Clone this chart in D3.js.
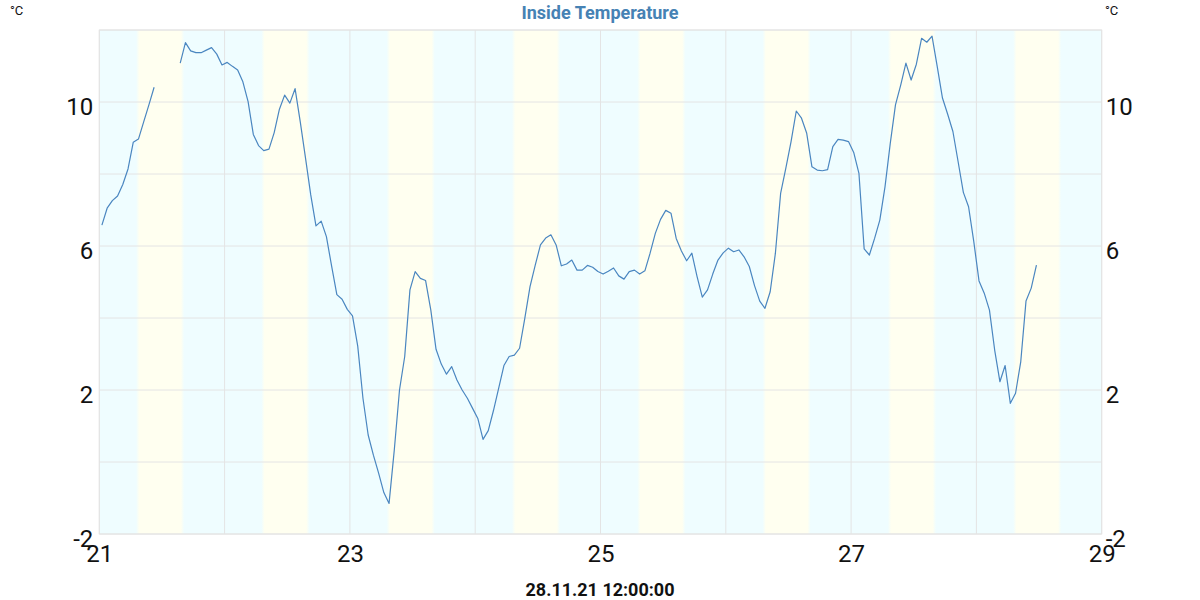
<!DOCTYPE html>
<html><head><meta charset="utf-8">
<script src="https://cdn.jsdelivr.net/npm/d3@7/dist/d3.min.js"></script>
<style>body{margin:0;background:#fff;} svg{display:block;font-family:Roboto,"Noto Sans",sans-serif;}</style>
</head><body>
<svg id="c" width="1200" height="600"></svg>
<script>
const title = "Inside Temperature";
const unit = "°C";
const footer = "28.11.21 12:00:00";
const startTime = new Date(2021, 10, 21, 0, 30);   // first hourly sample
const xDomain = [new Date(2021, 10, 21), new Date(2021, 10, 29)];
const yDomain = [-2, 12];
const xTickDays = [21, 23, 25, 27, 29];
const yTickValues = [-2, 2, 6, 10];
const yGridValues = [-2, 0, 2, 4, 6, 8, 10, 12];
const days = [21, 22, 23, 24, 25, 26, 27, 28];
const sunriseHour = 7.35;
const sunsetHour = 15.95;
// hourly inside temperature (°C), null = missing
const temps = [
 6.58,7.05,7.26,7.39,7.71,8.14,8.88,8.97,9.45,9.92,10.41,null,null,null,null,
 11.08,11.65,11.42,11.37,11.37,11.44,11.51,11.33,11.03,11.10,10.99,10.89,10.56,10.01,9.10,
 8.79,8.65,8.69,9.15,9.80,10.19,9.97,10.37,9.44,8.44,7.42,6.56,6.69,6.26,5.44,
 4.65,4.52,4.24,4.06,3.22,1.77,0.75,0.19,-0.31,-0.85,-1.15,0.33,2.00,2.93,4.78,
 5.29,5.10,5.04,4.22,3.13,2.72,2.44,2.65,2.28,2.00,1.77,1.49,1.21,0.63,0.87,
 1.43,2.05,2.68,2.93,2.97,3.16,3.99,4.87,5.47,6.03,6.22,6.31,6.03,5.45,5.50,
 5.61,5.33,5.33,5.46,5.41,5.29,5.22,5.30,5.39,5.17,5.08,5.29,5.33,5.22,5.31,
 5.80,6.35,6.74,6.99,6.91,6.21,5.86,5.59,5.80,5.15,4.58,4.78,5.22,5.61,5.81,
 5.94,5.84,5.89,5.70,5.43,4.90,4.47,4.27,4.73,5.80,7.46,8.16,8.90,9.75,9.55,
 9.13,8.20,8.11,8.09,8.12,8.76,8.96,8.94,8.90,8.60,8.02,5.92,5.75,6.21,6.72,
 7.65,8.85,9.92,10.47,11.08,10.61,11.05,11.77,11.66,11.83,10.98,10.11,9.66,9.18,8.34,
 7.49,7.09,6.12,5.03,4.69,4.22,3.11,2.23,2.68,1.63,1.91,2.79,4.47,4.83,5.47
];

const svg = d3.select("#c");
const m = {l: 99.3, r: 1101.7, t: 30, b: 534};
const x = d3.scaleTime().domain(xDomain).range([m.l, m.r]);
const y = d3.scaleLinear().domain(yDomain).range([m.b, m.t]);
const data = temps.map((v, i) => ({t: new Date(+startTime + i * 3600e3), v}));

// day/night background gradient
const cyan = "#effdff", yellow = "#fffff0";
const defs = svg.append("defs");
const grad = defs.append("linearGradient").attr("id", "bg")
  .attr("gradientUnits", "userSpaceOnUse")
  .attr("x1", m.l).attr("x2", m.r).attr("y1", 0).attr("y2", 0);
const W = m.r - m.l;
const off = d => Math.max(0, Math.min(1, (x(d) - m.l) / W));
const hr = (day, h) => new Date(2021, 10, day, 0, Math.round(h * 60));
grad.append("stop").attr("offset", 0).attr("stop-color", cyan);
days.forEach(d => {
  grad.append("stop").attr("offset", off(hr(d, sunriseHour - 0.3))).attr("stop-color", cyan);
  grad.append("stop").attr("offset", off(hr(d, sunriseHour + 0.3))).attr("stop-color", yellow);
  grad.append("stop").attr("offset", off(hr(d, sunsetHour - 0.3))).attr("stop-color", yellow);
  grad.append("stop").attr("offset", off(hr(d, sunsetHour + 0.3))).attr("stop-color", cyan);
});
grad.append("stop").attr("offset", 1).attr("stop-color", cyan);
svg.append("rect").attr("x", m.l).attr("y", m.t).attr("width", W).attr("height", m.b - m.t)
  .attr("fill", "url(#bg)");

// grid
const gridColor = "#e4e4e4";
svg.append("g").selectAll("line").data(yGridValues).join("line")
  .attr("x1", m.l).attr("x2", m.r).attr("y1", d => y(d)).attr("y2", d => y(d))
  .attr("stroke", gridColor).attr("stroke-width", 1);
svg.append("g").selectAll("line").data(days.concat([29])).join("line")
  .attr("x1", d => x(new Date(2021, 10, d))).attr("x2", d => x(new Date(2021, 10, d)))
  .attr("y1", m.t).attr("y2", m.b)
  .attr("stroke", gridColor).attr("stroke-width", 1);

// line
const line = d3.line().defined(d => d.v != null).x(d => x(d.t)).y(d => y(d.v));
svg.append("path").datum(data).attr("d", line)
  .attr("fill", "none").attr("stroke", "#4a86c0").attr("stroke-width", 1.2)
  .attr("stroke-linejoin", "round");

// axes (labels only)
const fmt = d => String(d);
const yl = d3.axisLeft(y).tickValues(yTickValues).tickFormat(fmt).tickSize(0).tickPadding(6);
const gl = svg.append("g").attr("transform", `translate(${m.l},0)`).call(yl);
const yr = d3.axisRight(y).tickValues(yTickValues).tickFormat(fmt).tickSize(0).tickPadding(4);
const gr = svg.append("g").attr("transform", `translate(${m.r},0)`).call(yr);
const xa = d3.axisBottom(x).tickValues(xTickDays.map(d => new Date(2021, 10, d)))
  .tickFormat(d3.timeFormat("%d")).tickSize(0).tickPadding(6);
const gx = svg.append("g").attr("transform", `translate(0,${m.b})`).call(xa);
[gl, gr, gx].forEach(g => {
  g.select(".domain").remove();
  g.selectAll("text").attr("font-size", 24).attr("font-family", "Roboto").attr("fill", "#111");
});
gl.selectAll("text").attr("dy", "0.54em");
gr.selectAll("text").attr("dy", "0.54em");
gx.selectAll("text").attr("dy", "0.9em");

// border
svg.append("rect").attr("x", m.l).attr("y", m.t).attr("width", W).attr("height", m.b - m.t)
  .attr("fill", "none").attr("stroke", gridColor);

// texts
svg.append("text").attr("x", 600).attr("y", 19).attr("text-anchor", "middle")
  .attr("font-size", 18).attr("font-weight", "bold").attr("fill", "#4682b4").text(title);
svg.append("text").attr("x", 10).attr("y", 15).attr("font-size", 13).attr("fill", "#111").text(unit);
svg.append("text").attr("x", 1105).attr("y", 15).attr("font-size", 13).attr("fill", "#111").text(unit);
svg.append("text").attr("x", 600).attr("y", 596).attr("text-anchor", "middle")
  .attr("font-size", 18).attr("font-weight", "bold").attr("fill", "#111").text(footer);
</script>
</body></html>
